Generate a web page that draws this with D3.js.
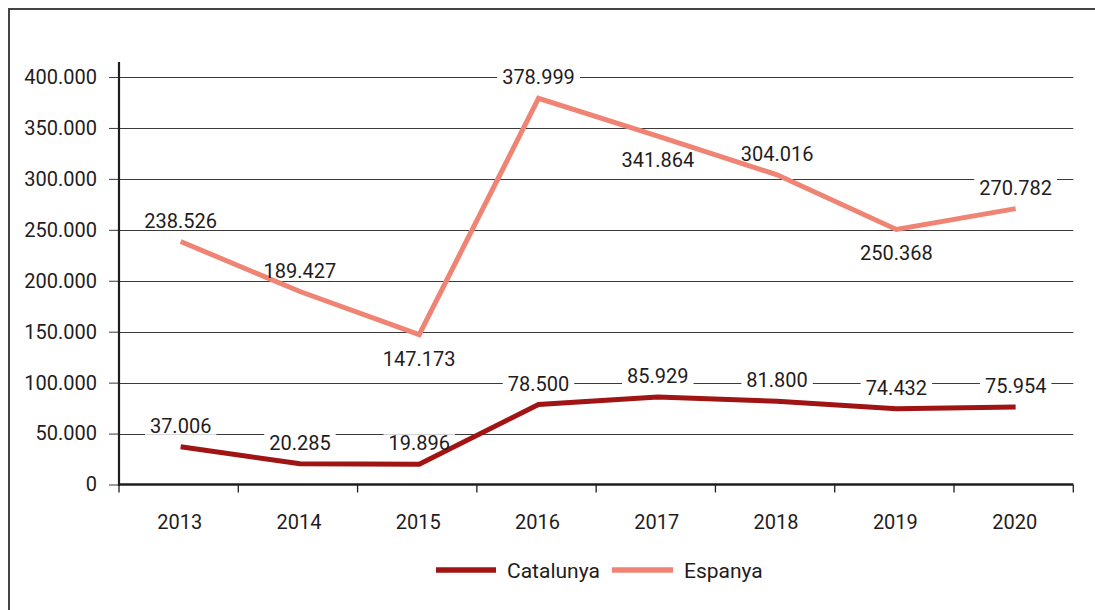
<!DOCTYPE html>
<html>
<head>
<meta charset="utf-8">
<script src="https://cdn.jsdelivr.net/npm/d3@7"></script>
<style>
  html, body { margin: 0; padding: 0; background: #fff; }
  svg { display: block; }
  text { font-family: Roboto, "Noto Sans", sans-serif; fill: #1f1c1d; font-weight: 400; }
</style>
</head>
<body>
<svg id="chart" width="1095" height="610"></svg>
<script>
// ---- data ----
const years = ["2013", "2014", "2015", "2016", "2017", "2018", "2019", "2020"];
const catalunya = [37006, 20285, 19896, 78500, 85929, 81800, 74432, 75954];
const espanya = [238526, 189427, 147173, 378999, 341864, 304016, 250368, 270782];
const espanyaLabelSide = ["above", "above", "below", "above", "below", "above", "below", "above"];
const catalunyaLabelSide = ["above", "above", "above", "above", "above", "above", "above", "above"];
const yTicks = [0, 50000, 100000, 150000, 200000, 250000, 300000, 350000, 400000];
const seriesNames = ["Catalunya", "Espanya"];

// ---- styles ----
const colors = { Catalunya: "#a01414", Espanya: "#f08474" };
const fontSize = 20;

const svg = d3.select("#chart");
const W = 1095, H = 610;
const pLeft = 119, pRight = 1073.3, pTop = 77, pBottom = 484.5;

const loc = d3.formatLocale({ decimal: ",", thousands: ".", grouping: [3], currency: ["", ""] });
const fmt = loc.format(",");

const x = d3.scaleBand().domain(years).range([pLeft, pRight]);
const y = d3.scaleLinear().domain([0, 400000]).range([pBottom, pTop]);

// frame
svg.append("path")
  .attr("d", `M9,${H + 5} L9,9 L${W + 5},9`)
  .attr("fill", "none").attr("stroke", "#444").attr("stroke-width", 2);

// gridlines
svg.append("g").selectAll("line").data(yTicks.filter(d => d > 0)).join("line")
  .attr("x1", pLeft).attr("x2", pRight)
  .attr("y1", d => Math.round(y(d)) + 0.5).attr("y2", d => Math.round(y(d)) + 0.5)
  .attr("stroke", "#3a3a3a").attr("stroke-width", 1);

// y axis
const yAxis = d3.axisLeft(y).tickValues(yTicks).tickFormat(fmt).tickSize(10).tickPadding(12);
const gy = svg.append("g").attr("transform", `translate(${pLeft},0)`).call(yAxis);
gy.select(".domain").remove();
gy.selectAll(".tick line").attr("stroke", "#3a3a3a").attr("stroke-width", 1);
gy.selectAll(".tick text").attr("font-size", fontSize).attr("font-family", "Roboto").attr("fill", "#1f1c1d");
svg.append("line").attr("x1", pLeft).attr("x2", pLeft).attr("y1", 62).attr("y2", pBottom + 1.5)
  .attr("stroke", "#1e1e1e").attr("stroke-width", 2.2);

// x axis
svg.append("line").attr("x1", pLeft).attr("x2", pRight).attr("y1", pBottom).attr("y2", pBottom)
  .attr("stroke", "#1e1e1e").attr("stroke-width", 2.5);
const bounds = years.map(d => x(d)).concat([pRight]);
svg.append("g").selectAll("line").data(bounds).join("line")
  .attr("x1", d => d).attr("x2", d => d).attr("y1", pBottom).attr("y2", pBottom + 8)
  .attr("stroke", "#1e1e1e").attr("stroke-width", 1.3);
svg.append("g").selectAll("text").data(years).join("text")
  .attr("x", d => x(d) + x.bandwidth() / 2 + 1).attr("y", 529)
  .attr("text-anchor", "middle").attr("font-size", fontSize).text(d => d);

// series
const cx = (i) => x(years[i]) + x.bandwidth() / 2 + 2;
const line = d3.line().x((d, i) => cx(i)).y(d => y(d));
const series = [
  { name: "Espanya", values: espanya, sides: espanyaLabelSide },
  { name: "Catalunya", values: catalunya, sides: catalunyaLabelSide }
];

// label backgrounds (under lines, over gridlines), then lines, then label text
const bgLayer = svg.append("g");
const lineLayer = svg.append("g");
const textLayer = svg.append("g");

series.forEach(s => {
  lineLayer.append("path").datum(s.values).attr("d", line)
    .attr("fill", "none").attr("stroke", colors[s.name]).attr("stroke-width", 5)
    .attr("stroke-linejoin", "miter").attr("stroke-linecap", "butt");
  s.values.forEach((v, i) => {
    const px = cx(i);
    const cyc = y(v) + (s.sides[i] === "above" ? -21 : 24);
    const t = textLayer.append("text").attr("x", px).attr("y", cyc + 7)
      .attr("text-anchor", "middle").attr("font-size", fontSize).text(fmt(v));
    const bb = t.node().getBBox();
    bgLayer.append("rect").attr("x", bb.x - 5).attr("y", cyc - 9)
      .attr("width", bb.width + 10).attr("height", 18).attr("fill", "#fff");
  });
});

// legend
const legend = [
  { name: "Catalunya", x1: 436, x2: 496, tx: 507 },
  { name: "Espanya", x1: 612, x2: 673, tx: 684 }
];
legend.forEach(l => {
  svg.append("line").attr("x1", l.x1).attr("x2", l.x2).attr("y1", 570).attr("y2", 570)
    .attr("stroke", colors[l.name]).attr("stroke-width", 5.5);
  svg.append("text").attr("x", l.tx).attr("y", 577.5).attr("font-size", 21).text(l.name);
});
</script>
</body>
</html>
